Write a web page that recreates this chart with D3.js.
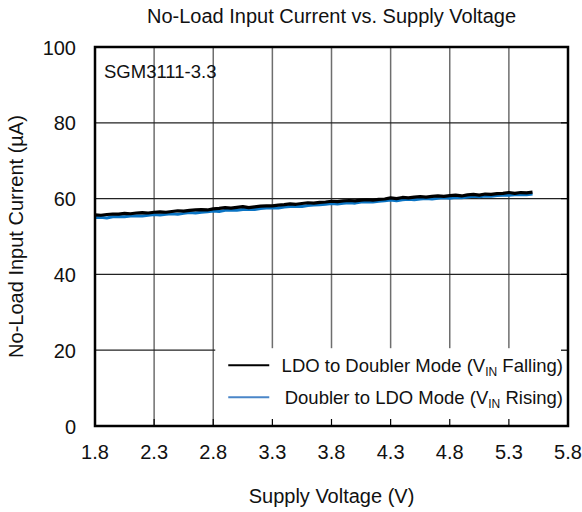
<!DOCTYPE html>
<html>
<head>
<meta charset="utf-8">
<script src="https://cdn.jsdelivr.net/npm/d3@7"></script>
<style>
  body { margin: 0; background: #fff; }
  text { font-family: "Liberation Sans", Arial, sans-serif; fill: #111; }
</style>
</head>
<body>
<div id="chart"></div>
<script>
// data
const voltage = [1.80, 1.85, 1.90, 1.95, 2.00, 2.05, 2.10, 2.15, 2.20, 2.25,
  2.30, 2.35, 2.40, 2.45, 2.50, 2.55, 2.60, 2.65, 2.70, 2.75,
  2.80, 2.85, 2.90, 2.95, 3.00, 3.05, 3.10, 3.15, 3.20, 3.25,
  3.30, 3.35, 3.40, 3.45, 3.50, 3.55, 3.60, 3.65, 3.70, 3.75,
  3.80, 3.85, 3.90, 3.95, 4.00, 4.05, 4.10, 4.15, 4.20, 4.25,
  4.30, 4.35, 4.40, 4.45, 4.50, 4.55, 4.60, 4.65, 4.70, 4.75,
  4.80, 4.85, 4.90, 4.95, 5.00, 5.05, 5.10, 5.15, 5.20, 5.25,
  5.30, 5.35, 5.40, 5.45, 5.50];

const falling = [55.7, 55.6, 55.8, 55.9, 55.9, 56.1, 56.0, 56.2, 56.3, 56.2,
  56.4, 56.5, 56.4, 56.6, 56.8, 56.7, 56.9, 57.0, 57.1, 57.0,
  57.3, 57.4, 57.6, 57.5, 57.7, 57.9, 57.6, 57.8, 58.0, 58.1,
  58.1, 58.3, 58.4, 58.6, 58.5, 58.7, 58.9, 58.8, 59.0, 59.1,
  59.3, 59.2, 59.4, 59.5, 59.4, 59.6, 59.7, 59.6, 59.8, 59.9,
  60.2, 60.0, 60.3, 60.2, 60.4, 60.5, 60.4, 60.6, 60.7, 60.6,
  60.8, 60.9, 60.7, 61.0, 61.1, 60.9, 61.2, 61.1, 61.3, 61.4,
  61.6, 61.4, 61.6, 61.5, 61.7];

const rising = [55.0, 55.1, 54.9, 55.2, 55.3, 55.2, 55.4, 55.5, 55.4, 55.6,
  55.8, 55.7, 55.9, 56.0, 55.9, 56.1, 56.3, 56.2, 56.4, 56.5,
  56.7, 56.6, 56.9, 57.0, 56.9, 57.1, 57.2, 57.1, 57.4, 57.5,
  57.6, 57.5, 57.8, 57.9, 58.0, 57.9, 58.2, 58.3, 58.4, 58.5,
  58.7, 58.6, 58.8, 58.9, 58.8, 59.1, 59.2, 59.1, 59.3, 59.4,
  59.6, 59.4, 59.7, 59.8, 59.7, 59.9, 60.0, 59.9, 60.1, 60.2,
  60.1, 60.3, 60.2, 60.4, 60.6, 60.5, 60.7, 60.6, 60.8, 60.9,
  60.9, 61.0, 61.1, 61.0, 61.2];

const xTicks = [1.8, 2.3, 2.8, 3.3, 3.8, 4.3, 4.8, 5.3, 5.8];
const yTicks = [0, 20, 40, 60, 80, 100];

const svgWidth = 582;
const svgHeight = 512;
const margin = { top: 47, right: 14, bottom: 86, left: 95 };
const width = svgWidth - margin.left - margin.right;
const height = svgHeight - margin.top - margin.bottom;

const svg = d3.select("#chart")
  .append("svg")
  .attr("width", svgWidth)
  .attr("height", svgHeight);

const chartGroup = svg.append("g")
  .attr("transform", `translate(${margin.left},${margin.top})`);

const x = d3.scaleLinear().domain([1.8, 5.8]).range([0, width]);
const y = d3.scaleLinear().domain([0, 100]).range([height, 0]);

// grid: vertical grey, horizontal black
chartGroup.selectAll(".vgrid")
  .data(xTicks.slice(1, -1))
  .enter()
  .append("line")
  .attr("x1", d => x(d)).attr("x2", d => x(d))
  .attr("y1", 0).attr("y2", height)
  .attr("stroke", "#6e6e6e")
  .attr("stroke-width", 1.5);

chartGroup.selectAll(".hgrid")
  .data(yTicks.slice(1, -1))
  .enter()
  .append("line")
  .attr("x1", 0).attr("x2", width)
  .attr("y1", d => y(d)).attr("y2", d => y(d))
  .attr("stroke", "#222")
  .attr("stroke-width", 1.2);

// series
const line = d3.line()
  .x((d, i) => x(voltage[i]))
  .y(d => y(d));

chartGroup.append("path")
  .datum(rising)
  .attr("d", line)
  .attr("fill", "none")
  .attr("stroke", "#0a74c4")
  .attr("stroke-width", 3)
  .attr("stroke-linejoin", "round");

chartGroup.append("path")
  .datum(falling)
  .attr("d", line)
  .attr("fill", "none")
  .attr("stroke", "#000")
  .attr("stroke-width", 3.2)
  .attr("stroke-linejoin", "round");

// legend box
const legend = chartGroup.append("g")
  .attr("transform", `translate(${x(2.8) + 2},${y(20) - 2})`);

legend.append("rect")
  .attr("width", width - x(2.8) - 2)
  .attr("height", height - y(20) + 2)
  .attr("fill", "#fff");

const legendItems = [
  { label: "LDO to Doubler Mode (V", tail: " Falling)", color: "#000", w: 2 },
  { label: "Doubler to LDO Mode (V", tail: " Rising)", color: "#4a86c8", w: 2 }
];

legendItems.forEach((item, i) => {
  const ly = 17 + i * 32;
  legend.append("line")
    .attr("x1", 13).attr("x2", 54)
    .attr("y1", ly).attr("y2", ly)
    .attr("stroke", item.color)
    .attr("stroke-width", item.w);
  const t = legend.append("text")
    .attr("x", width - x(2.8) - 7)
    .attr("y", ly + 7)
    .attr("text-anchor", "end")
    .attr("font-size", "18.5px");
  t.append("tspan").text(item.label);
  t.append("tspan").attr("font-size", "12px").attr("dy", 4).text("IN");
  t.append("tspan").attr("dy", -4).text(item.tail);
});

// inward ticks
chartGroup.selectAll(".xtick")
  .data(xTicks)
  .enter()
  .append("line")
  .attr("x1", d => x(d)).attr("x2", d => x(d))
  .attr("y1", height).attr("y2", height - 7)
  .attr("stroke", "#000")
  .attr("stroke-width", 1.2);

chartGroup.selectAll(".ytickR")
  .data(yTicks)
  .enter()
  .append("line")
  .attr("x1", width).attr("x2", width - 7)
  .attr("y1", d => y(d)).attr("y2", d => y(d))
  .attr("stroke", "#000")
  .attr("stroke-width", 1.2);

// frame
chartGroup.append("rect")
  .attr("width", width)
  .attr("height", height)
  .attr("fill", "none")
  .attr("stroke", "#000")
  .attr("stroke-width", 2.5);

// tick labels
chartGroup.selectAll(".xlabel")
  .data(xTicks)
  .enter()
  .append("text")
  .attr("x", d => x(d))
  .attr("y", height + 33)
  .attr("text-anchor", "middle")
  .attr("font-size", "20px")
  .text(d => d.toFixed(1));

chartGroup.selectAll(".ylabel")
  .data(yTicks)
  .enter()
  .append("text")
  .attr("x", -19)
  .attr("y", d => y(d) + 7.5)
  .attr("text-anchor", "end")
  .attr("font-size", "20px")
  .text(d => d);

// part label
chartGroup.append("text")
  .attr("x", 9)
  .attr("y", 31)
  .attr("font-size", "18.5px")
  .text("SGM3111-3.3");

// titles
svg.append("text")
  .attr("x", margin.left + width / 2)
  .attr("y", 23)
  .attr("text-anchor", "middle")
  .attr("font-size", "20px")
  .text("No-Load Input Current vs. Supply Voltage");

svg.append("text")
  .attr("x", margin.left + width / 2)
  .attr("y", 503)
  .attr("text-anchor", "middle")
  .attr("font-size", "20px")
  .text("Supply Voltage (V)");

svg.append("text")
  .attr("transform", `translate(23,${margin.top + height / 2}) rotate(-90)`)
  .attr("text-anchor", "middle")
  .attr("font-size", "20px")
  .text("No-Load Input Current (µA)");
</script>
</body>
</html>
